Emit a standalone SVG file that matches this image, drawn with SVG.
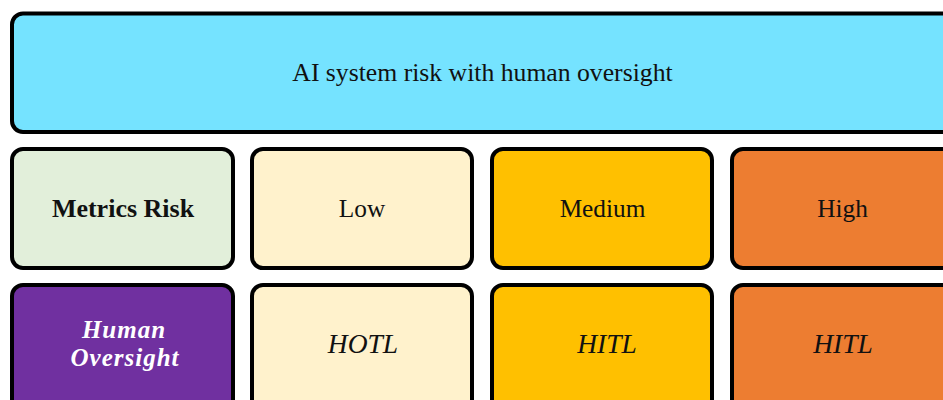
<svg xmlns="http://www.w3.org/2000/svg" width="943" height="400" viewBox="0 0 943 400">
<style>
.box{stroke:#000;stroke-width:4}
.t{font-family:"Liberation Serif",serif;font-size:25.3px;fill:#111;text-anchor:middle;dominant-baseline:central}
.i{font-style:italic;font-size:27.5px}
.b{font-weight:bold;font-size:26px}
.w{fill:#fff;font-size:25px;letter-spacing:1px}
</style>
<rect width="943" height="400" fill="#fff"/>
<g id="title"><rect class="box" x="12" y="13.5" width="960" height="118.5" rx="11" fill="#75E3FF"/><text class="t" x="482.5" y="72" style="font-size:25.7px">AI system risk with human oversight</text></g>
<g id="metrics"><rect class="box" x="12" y="149" width="221" height="119" rx="11" fill="#E2EFDA"/><text class="t b" x="123" y="208">Metrics Risk</text></g>
<g id="low"><rect class="box" x="252" y="149" width="220" height="119" rx="11" fill="#FFF2CC"/><text class="t" x="362" y="208">Low</text></g>
<g id="medium"><rect class="box" x="492" y="149" width="220" height="119" rx="11" fill="#FFC000"/><text class="t" x="602.5" y="208">Medium</text></g>
<g id="high"><rect class="box" x="732" y="149" width="240" height="119" rx="11" fill="#ED7D31"/><text class="t" x="842.5" y="208">High</text></g>
<g id="oversight"><rect class="box" x="12" y="285" width="221" height="140" rx="11" fill="#7030A0"/><text class="t b i w" x="124" y="329">Human</text><text class="t b i w" x="125" y="357">Oversight</text></g>
<g id="hotl"><rect class="box" x="252" y="285" width="220" height="140" rx="11" fill="#FFF2CC"/><text class="t i" x="363" y="343">HOTL</text></g>
<g id="hitl-medium"><rect class="box" x="492" y="285" width="220" height="140" rx="11" fill="#FFC000"/><text class="t i" x="607" y="343">HITL</text></g>
<g id="hitl-high"><rect class="box" x="732" y="285" width="240" height="140" rx="11" fill="#ED7D31"/><text class="t i" x="843" y="343">HITL</text></g>
<g id="connectors"/>
</svg>
